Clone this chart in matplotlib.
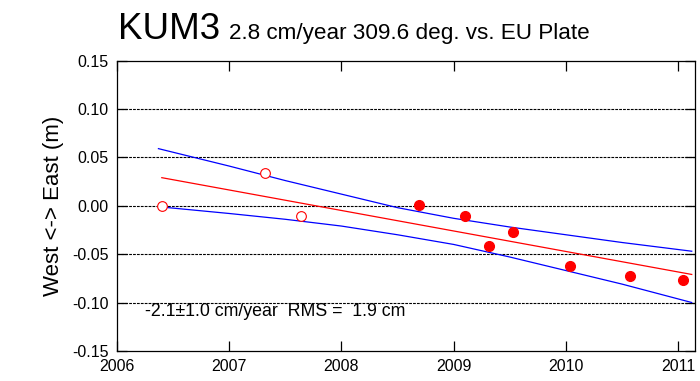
import numpy as np
import matplotlib
matplotlib.use('Agg')
import matplotlib.pyplot as plt

plt.rcParams['font.family'] = ['Liberation Sans', 'DejaVu Sans']

# campaign points (open) and continuous points (filled)
t_open = [2006.40, 2007.32, 2007.64]
e_open = [0.000, 0.034, -0.011]
t_fill = [2008.69, 2009.10, 2009.31, 2009.53, 2010.04, 2010.57, 2011.04]
e_fill = [0.001, -0.011, -0.042, -0.027, -0.062, -0.073, -0.077]

# fitted trend
t_fit = [2006.40, 2011.12]
e_fit = [0.029, -0.071]

# confidence band
t_band = [2006.37, 2007.0, 2007.5, 2008.0, 2008.5, 2009.0, 2009.5, 2010.0, 2010.5, 2011.12]
e_upper = [0.059, 0.041, 0.026, 0.012, -0.002, -0.013, -0.022, -0.030, -0.038, -0.047]
e_lower = [-0.001, -0.008, -0.014, -0.021, -0.030, -0.040, -0.053, -0.067, -0.081, -0.100]

years = [2006, 2007, 2008, 2009, 2010, 2011]
yticks = [-0.15, -0.10, -0.05, 0.00, 0.05, 0.10, 0.15]
grid_levels = [-0.10, -0.05, 0.00, 0.05, 0.10]

fig = plt.figure(figsize=(7, 3.81), dpi=100)
ax = fig.add_axes([0.167, 0.079, 0.826, 0.762])

for g in grid_levels:
    ax.axhline(g, color='black', lw=0.8, ls=(0, (2.5, 1)), zorder=1)

ax.plot(t_band, e_upper, color='blue', lw=0.9, zorder=2)
ax.plot(t_band, e_lower, color='blue', lw=0.9, zorder=2)
ax.plot(t_fit, e_fit, color='red', lw=0.9, zorder=2)

ax.plot(t_open, e_open, 'o', ms=7, mfc='white', mec='red', mew=0.8, zorder=3)
ax.plot(t_fill, e_fill, 'o', ms=7, mfc='red', mec='red', zorder=3)

ax.set_xlim(2006, 2011.15)
ax.set_ylim(-0.15, 0.15)
ax.set_xticks(years)
ax.set_yticks(yticks)
ax.set_yticklabels(['%.2f' % v for v in yticks])
ax.tick_params(direction='in', length=7, width=0.9, top=True, right=True,
               labelsize=11.5, pad=6)
for s in ax.spines.values():
    s.set_linewidth(0.9)

ax.set_ylabel('West <-> East (m)', fontsize=16, labelpad=6)

ax.text(2006.25, -0.109, '-2.1\u00b11.0 cm/year  RMS =  1.9 cm', fontsize=12.8,
        va='center', ha='left')

fig.text(0.168, 0.898, 'KUM3', fontsize=26.5, ha='left', va='baseline')
fig.text(0.327, 0.898, '2.8 cm/year 309.6 deg. vs. EU Plate', fontsize=16.2,
         ha='left', va='baseline')

fig.savefig('out.png', dpi=100)
